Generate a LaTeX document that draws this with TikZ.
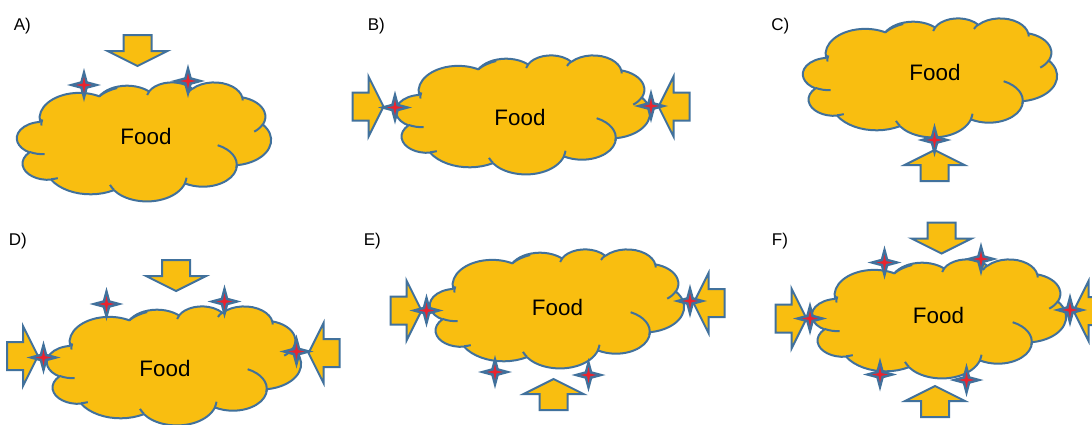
\documentclass[tikz,border=0pt]{standalone}
\usepackage{tikz}
\usepackage{fontspec}
\setmainfont{Liberation Sans}

\definecolor{cloudgold}{RGB}{249,190,16}
\definecolor{edgeblue}{RGB}{65,113,156}
\definecolor{starred}{RGB}{232,36,48}

% Cloud outline: elliptic arcs laid out in a 43.2 x 43.2 box,
% stretched to 254 x 119 units. Arc angles are visual angles and are
% turned into parametric ones before use.
\newcommand\cloudsx{5.8796}
\newcommand\cloudsy{2.7546}
\def\cloudoutline{}
\def\clouddetail{}
\newcommand\cloudarcto[5]{%
  \pgfmathsetmacro\cla{atan2(#2*sin(#4),#3*cos(#4))}%
  \pgfmathsetmacro\clb{atan2(#2*sin(#4+#5),#3*cos(#4+#5))}%
  \pgfmathsetmacro\clb{\cla+Mod(\clb-\cla,360)}%
  \pgfmathsetmacro\clrx{#2*\cloudsx}%
  \pgfmathsetmacro\clry{#3*\cloudsy}%
  \xdef#1{#1 arc[start angle=\cla,end angle=\clb,x radius=\clrx,y radius=\clry]}%
}
\newcommand\cloudmoveto[3]{%
  \pgfmathsetmacro\clx{#2*\cloudsx}%
  \pgfmathsetmacro\cly{#3*\cloudsy}%
  \xdef#1{#1 (\clx,\cly)}%
}
% outer boundary
\cloudmoveto\cloudoutline{3.9}{14.37}
\cloudarcto\cloudoutline{6.753}{9.190}{-190.4875}{123.7805}
\cloudarcto\cloudoutline{5.333}{7.267}{-144.1024}{89.9452}
\cloudarcto\cloudoutline{4.365}{5.945}{-145.8079}{99.7230}
\cloudarcto\cloudoutline{4.857}{6.595}{-130.9861}{117.2417}
\cloudarcto\cloudoutline{5.333}{7.273}{-78.7089}{109.0269}
\cloudarcto\cloudoutline{6.775}{9.220}{-46.2673}{130.2690}
\cloudarcto\cloudoutline{5.785}{7.867}{0.6250}{114.0333}
\cloudarcto\cloudoutline{6.752}{9.215}{22.4516}{115.1726}
\cloudarcto\cloudoutline{7.720}{10.543}{66.2426}{75.7110}
\cloudarcto\cloudoutline{4.360}{5.918}{-274.9421}{146.7356}
\cloudarcto\cloudoutline{4.345}{5.945}{-246.8285}{152.5189}
% inner lobe lines
\cloudmoveto\clouddetail{4.693}{26.177}
\cloudarcto\clouddetail{4.345}{5.945}{86.7420}{26.4295}
\cloudmoveto\clouddetail{6.928}{34.899}
\cloudarcto\clouddetail{4.360}{5.918}{73.6105}{11.4475}
\cloudmoveto\clouddetail{16.478}{39.090}
\cloudarcto\clouddetail{6.752}{9.215}{137.6242}{14.0811}
\cloudmoveto\clouddetail{28.827}{34.751}
\cloudarcto\clouddetail{6.752}{9.215}{6.4533}{15.9984}
\cloudmoveto\clouddetail{34.129}{22.954}
\cloudarcto\clouddetail{5.785}{7.867}{-70.2924}{81.5753}
\cloudmoveto\clouddetail{41.798}{15.354}
\cloudarcto\clouddetail{5.333}{7.273}{30.3180}{27.7515}
\cloudmoveto\clouddetail{38.324}{5.426}
\cloudarcto\clouddetail{4.857}{6.595}{-13.7443}{14.8589}
\cloudmoveto\clouddetail{29.078}{3.952}
\cloudarcto\clouddetail{4.857}{6.595}{-149.1815}{18.1954}
\cloudmoveto\clouddetail{22.141}{4.720}
\cloudarcto\clouddetail{4.365}{5.945}{-163.4943}{17.6864}
\cloudmoveto\clouddetail{14.000}{5.192}
\cloudarcto\clouddetail{6.753}{9.190}{-133.4662}{28.5296}
\cloudmoveto\clouddetail{4.127}{15.789}
\cloudarcto\clouddetail{6.753}{9.190}{-181.0761}{18.5348}

\tikzset{
  cloudbody/.style={fill=cloudgold, draw=edgeblue, line width=1pt, line join=round},
  cloudedge/.style={draw=edgeblue, line width=1pt},
  arrowbody/.style={fill=cloudgold, draw=edgeblue, line width=1pt, line join=miter},
  foodlabel/.style={font=\fontsize{11.2}{13}\selectfont, inner sep=0pt},
  panellabel/.style={font=\fontsize{8.5}{10}\selectfont, inner sep=0pt, anchor=base west},
}

% cloud with its top-left corner at (#1,#2)
\newcommand\foodcloud[2]{%
  \draw[cloudbody, shift={(#1,#2)}] \cloudoutline -- cycle;
  \draw[cloudedge, shift={(#1,#2)}] \clouddetail;
}
% block arrow: tip at (#1,#2), pointing in direction #3
\newcommand\blockarrow[3]{%
  \draw[arrowbody, shift={(#1,#2)}, rotate=#3]
    (0,0) -- (-15,30) -- (-15,14) -- (-31,14) -- (-31,-14) -- (-15,-14) -- (-15,-30) -- cycle;
}
% four-point spark centred at (#1,#2)
\newcommand\spark[2]{%
  \fill[edgeblue, shift={(#1,#2)}]
    (0,-17) -- (3.6,-3.6) -- (17,0) -- (3.6,3.6) -- (0,17) -- (-3.6,3.6) -- (-17,0) -- (-3.6,-3.6) -- cycle;
  \fill[starred, shift={(#1,#2)}]
    (0,-8) -- (1.4,-1.4) -- (8,0) -- (1.4,1.4) -- (0,8) -- (-1.4,1.4) -- (-8,0) -- (-1.4,-1.4) -- cycle;
}

\begin{document}
\begin{tikzpicture}[x=0.5pt, y=-0.5pt]
\useasboundingbox (0,0) rectangle (1092,424);

% A) pressure from above
\node[panellabel] (labA) at (13.5,30) {A)};
\foodcloud{17}{82}
\node[foodlabel] (foodA) at (146,136) {Food};
\blockarrow{137.5}{66}{-90}
\spark{84}{85}
\spark{188}{81}

% B) pressure from the sides
\node[panellabel] (labB) at (367.5,30) {B)};
\foodcloud{396}{55}
\node[foodlabel] (foodB) at (520,117) {Food};
\blockarrow{383.5}{106.5}{0}
\blockarrow{658.5}{106.5}{180}
\spark{395}{107.5}
\spark{651}{106}

% C) pressure from below
\node[panellabel] (labC) at (771,30) {C)};
\foodcloud{803}{18}
\node[foodlabel] (foodC) at (935,72.5) {Food};
\blockarrow{934.5}{150}{90}
\spark{934.5}{140}

% D) above and sides
\node[panellabel] (labD) at (8.5,245) {D)};
\foodcloud{47}{306}
\node[foodlabel] (foodD) at (165,368) {Food};
\blockarrow{176}{291}{-90}
\blockarrow{38}{356}{0}
\blockarrow{308.5}{353}{180}
\spark{106.5}{304}
\spark{224.5}{301.5}
\spark{43.5}{357.5}
\spark{296.5}{351.5}

% E) below and sides
\node[panellabel] (labE) at (363.5,245) {E)};
\foodcloud{430}{249}
\node[foodlabel] (foodE) at (557.5,307) {Food};
\blockarrow{421.5}{310.5}{0}
\blockarrow{693.5}{303}{180}
\blockarrow{553.5}{379}{90}
\spark{426.5}{310.5}
\spark{690}{301}
\spark{495}{372}
\spark{588.5}{375}

% F) all four directions
\node[panellabel] (labF) at (771.5,245) {F)};
\foodcloud{812}{259}
\node[foodlabel] (foodF) at (938.5,315.5) {Food};
\blockarrow{941.5}{253.5}{-90}
\blockarrow{806.5}{318.5}{0}
\blockarrow{1073.5}{311}{180}
\blockarrow{935}{386}{90}
\spark{884.5}{262.5}
\spark{981}{259}
\spark{810}{318.5}
\spark{1070}{310}
\spark{880}{374.5}
\spark{966.5}{380}
\end{tikzpicture}
\end{document}
